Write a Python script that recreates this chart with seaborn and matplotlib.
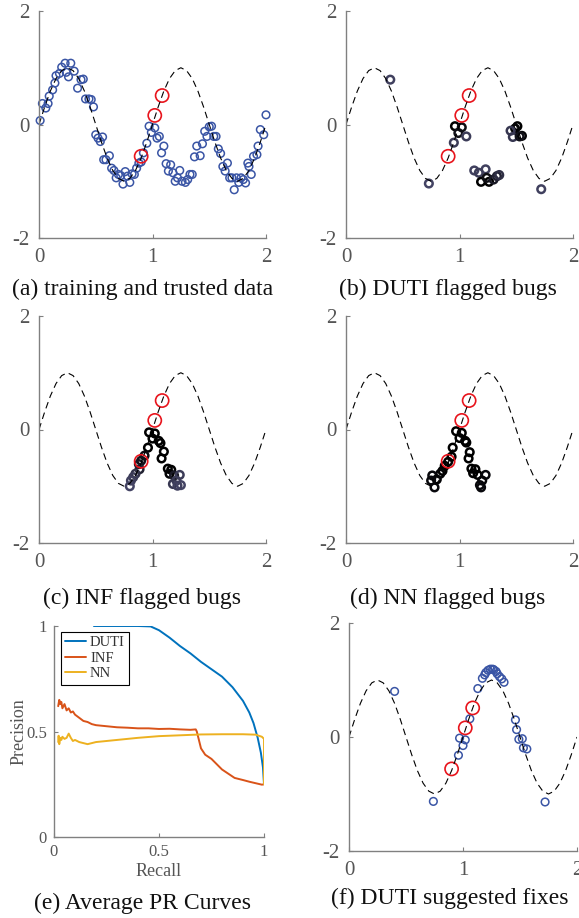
import matplotlib
matplotlib.use("Agg")
import numpy as np
import pandas as pd
import matplotlib.pyplot as plt
import seaborn as sns
from matplotlib.colors import LinearSegmentedColormap

# ---------------------------------------------------------------
# style
# ---------------------------------------------------------------
sns.set_style("white")
plt.rcParams['font.family'] = ['Liberation Serif', 'DejaVu Serif']

BLUE = '#3a55a5'
RED = '#e8141c'
GRAY = '#808080'
TXT = '#555555'

# ---------------------------------------------------------------
# data
# ---------------------------------------------------------------
# dashed reference curve (read every 0.05)
curve_x = [0.00, 0.05, 0.10, 0.15, 0.20, 0.25, 0.30, 0.35, 0.40, 0.45,
           0.50, 0.55, 0.60, 0.65, 0.70, 0.75, 0.80, 0.85, 0.90, 0.95,
           1.00, 1.05, 1.10, 1.15, 1.20, 1.25, 1.30, 1.35, 1.40, 1.45,
           1.50, 1.55, 1.60, 1.65, 1.70, 1.75, 1.80, 1.85, 1.90, 1.95, 2.00]
curve_y = [0.00, 0.31, 0.59, 0.81, 0.95, 1.00, 0.95, 0.81, 0.59, 0.31,
           0.00, -0.31, -0.59, -0.81, -0.95, -1.00, -0.95, -0.81, -0.59, -0.31,
           0.00, 0.31, 0.59, 0.81, 0.95, 1.00, 0.95, 0.81, 0.59, 0.31,
           0.00, -0.31, -0.59, -0.81, -0.95, -1.00, -0.95, -0.81, -0.59, -0.31, 0.00]

# trusted items (red)
trusted_x = [0.90, 1.02, 1.085]
trusted_y = [-0.56, 0.16, 0.51]

# (a) training data
train_x = [0.01, 0.03, 0.06, 0.08, 0.09, 0.12, 0.14, 0.15, 0.18, 0.20,
           0.23, 0.24, 0.26, 0.28, 0.31, 0.34, 0.37, 0.39, 0.41, 0.44,
           0.46, 0.48, 0.50, 0.52, 0.54, 0.56, 0.57, 0.59, 0.62, 0.64,
           0.66, 0.68, 0.70, 0.72, 0.74, 0.76, 0.78, 0.80, 0.82, 0.84,
           0.86, 0.88, 0.90, 0.92, 0.95, 0.97, 0.99, 1.02, 1.04, 1.06,
           1.08, 1.10, 1.12, 1.14, 1.16, 1.18, 1.20, 1.22, 1.24, 1.26,
           1.29, 1.31, 1.33, 1.35, 1.37, 1.39, 1.42, 1.44, 1.46, 1.48,
           1.50, 1.52, 1.54, 1.56, 1.58, 1.60, 1.62, 1.64, 1.66, 1.68,
           1.70, 1.72, 1.74, 1.76, 1.78, 1.80, 1.82, 1.84, 1.85, 1.87,
           1.89, 1.92, 1.93, 1.95, 1.98, 2.00]
train_y = [0.07, 0.37, 0.29, 0.37, 0.50, 0.61, 0.73, 0.86, 0.90, 1.01,
           1.08, 0.92, 0.84, 1.08, 0.94, 0.64, 0.79, 0.80, 0.45, 0.45,
           0.44, 0.31, -0.18, -0.24, -0.30, -0.22, -0.62, -0.62, -0.55, -0.77,
           -0.81, -0.94, -0.88, -0.90, -1.05, -0.83, -0.91, -1.02, -0.87, -0.88,
           -0.77, -0.68, -0.66, -0.50, -0.33, -0.03, -0.14, -0.06, -0.24, -0.21,
           -0.50, -0.38, -0.69, -0.82, -0.71, -0.85, -1.00, -0.94, -0.81, -1.00,
           -1.02, -0.97, -0.88, -0.88, -0.57, -0.38, -0.55, -0.34, -0.12, -0.21,
           -0.04, -0.03, -0.21, -0.21, -0.43, -0.51, -0.74, -0.82, -0.68, -0.94,
           -0.94, -1.15, -0.94, -1.02, -0.94, -0.97, -1.03, -0.68, -0.74, -0.88,
           -0.56, -0.53, -0.38, -0.09, -0.18, 0.17]

# (b) DUTI flagged items, shade = how strongly flagged (0 slate .. 1 black)
duti_x = [0.39, 0.73, 0.96, 0.99, 1.02, 0.95, 1.06, 1.13, 1.17, 1.23,
          1.19, 1.26, 1.24, 1.30, 1.33, 1.35, 1.51, 1.49, 1.45, 1.47,
          1.55, 1.53, 1.72]
duti_y = [0.79, -1.04, -0.03, -0.15, -0.05, -0.32, -0.21, -0.81, -0.85, -0.79,
          -1.01, -1.01, -0.94, -0.97, -0.91, -0.89, -0.03, -0.07, -0.11, -0.22,
          -0.20, -0.21, -1.14]
duti_shade = [0.25, 0.2, 1.0, 0.8, 0.85, 0.3, 0.3, 0.25, 0.3, 0.25,
              1.0, 1.0, 0.85, 0.7, 0.6, 0.45, 1.0, 0.95, 0.35, 0.35,
              0.95, 0.8, 0.25]

# (c) INF flagged items
inf_x = [0.97, 1.02, 1.00, 1.055, 1.07, 0.96, 1.10, 1.08, 0.93, 0.90,
         0.88, 0.886, 0.85, 0.83, 0.81, 0.80, 1.135, 1.165, 1.15, 1.19,
         1.24, 1.21, 1.18, 1.25, 1.22]
inf_y = [-0.05, -0.07, -0.16, -0.20, -0.24, -0.32, -0.39, -0.51, -0.46, -0.55,
         -0.61, -0.70, -0.78, -0.84, -0.90, -1.00, -0.69, -0.71, -0.78, -0.81,
         -0.80, -0.90, -0.96, -0.98, -0.99]
inf_shade = [1.0, 1.0, 1.0, 1.0, 1.0, 1.0, 1.0, 1.0, 0.85, 0.8,
             0.75, 0.6, 0.4, 0.3, 0.25, 0.2, 1.0, 1.0, 0.95, 0.7,
             0.3, 0.3, 0.35, 0.2, 0.25]

# (d) NN flagged items
nn_x = [0.97, 1.02, 1.00, 1.05, 1.06, 0.94, 1.09, 1.08, 0.93, 0.90,
        0.87, 0.85, 0.83, 0.76, 0.80, 0.75, 0.78, 1.105, 1.14, 1.12,
        1.16, 1.23, 1.20, 1.18, 1.19]
nn_y = [-0.03, -0.06, -0.15, -0.20, -0.23, -0.32, -0.40, -0.51, -0.48, -0.57,
        -0.64, -0.73, -0.78, -0.81, -0.88, -0.90, -1.02, -0.69, -0.70, -0.77,
        -0.80, -0.80, -0.90, -0.98, -1.02]
nn_shade = [1.0, 1.0, 1.0, 1.0, 1.0, 1.0, 1.0, 1.0, 1.0, 1.0,
            1.0, 1.0, 0.95, 0.9, 0.95, 0.9, 0.9, 1.0, 1.0, 1.0,
            1.0, 0.9, 0.95, 0.9, 0.9]

# (e) average PR curves
duti_rec = [0.19, 0.30, 0.40, 0.46, 0.50, 0.55, 0.60, 0.65, 0.70, 0.75,
            0.80, 0.85, 0.90, 0.93, 0.95, 0.97, 0.985, 0.995, 1.00]
duti_prec = [1.00, 1.00, 1.00, 0.998, 0.98, 0.945, 0.905, 0.87, 0.83, 0.795,
             0.76, 0.71, 0.645, 0.59, 0.54, 0.47, 0.40, 0.33, 0.25]
inf_rec = [0.02, 0.025, 0.03, 0.035, 0.04, 0.05, 0.06, 0.07, 0.08, 0.09,
           0.10, 0.12, 0.14, 0.16, 0.18, 0.20, 0.25, 0.30, 0.35, 0.40,
           0.45, 0.50, 0.55, 0.60, 0.65, 0.675, 0.68, 0.69, 0.70, 0.72,
           0.75, 0.78, 0.80, 0.83, 0.86, 0.90, 0.93, 0.96, 0.99, 1.00]
inf_prec = [0.62, 0.65, 0.63, 0.64, 0.61, 0.63, 0.60, 0.61, 0.59, 0.595,
            0.58, 0.565, 0.55, 0.545, 0.535, 0.53, 0.525, 0.52, 0.518, 0.515,
            0.515, 0.512, 0.513, 0.51, 0.508, 0.51, 0.50, 0.46, 0.42, 0.39,
            0.37, 0.34, 0.32, 0.30, 0.28, 0.27, 0.262, 0.255, 0.248, 0.25]
nn_rec = [0.02, 0.022, 0.025, 0.03, 0.035, 0.04, 0.05, 0.06, 0.07, 0.08,
          0.09, 0.10, 0.12, 0.14, 0.16, 0.20, 0.25, 0.30, 0.40, 0.50,
          0.60, 0.70, 0.80, 0.90, 0.96, 0.99, 1.00, 1.00]
nn_prec = [0.45, 0.48, 0.44, 0.47, 0.46, 0.475, 0.465, 0.47, 0.49, 0.47,
           0.455, 0.46, 0.45, 0.445, 0.44, 0.45, 0.455, 0.46, 0.47, 0.478,
           0.482, 0.486, 0.487, 0.487, 0.485, 0.475, 0.465, 0.25]

# f) DUTI suggested fixes
fix_x = [0.40, 0.74, 0.96, 0.97, 1.00, 1.02, 1.06, 1.13, 1.17, 1.19,
         1.20, 1.22, 1.24, 1.26, 1.27, 1.29, 1.30, 1.32, 1.34, 1.36,
         1.46, 1.47, 1.49, 1.52, 1.53, 1.56, 1.72]
fix_y = [0.80, -1.13, -0.32, -0.02, -0.15, -0.05, 0.32, 0.85, 1.03, 1.09,
         1.13, 1.17, 1.19, 1.19, 1.18, 1.15, 1.11, 1.06, 1.02, 0.96,
         0.30, 0.13, -0.04, -0.03, -0.19, -0.21, -1.14]

captions = ['(a) training and trusted data', '(b) DUTI flagged bugs',
            '(c) INF flagged bugs', '(d) NN flagged bugs',
            '(e) Average PR Curves', '(f) DUTI suggested fixes']

# ---------------------------------------------------------------
# helpers
# ---------------------------------------------------------------
W, H = 579, 918
fig = plt.figure(figsize=(W / 100, H / 100), dpi=100)


def px_axes(l, t, r, b):
    return fig.add_axes([l / W, 1 - b / H, (r - l) / W, (b - t) / H])


shade_cmap = LinearSegmentedColormap.from_list('shade', ['#55557d', '#000000'])


def open_circles(ax, x, y, color=None, shade=None, s=30, lw=1.1):
    df = pd.DataFrame({'x': x, 'y': y})
    if shade is None:
        sns.scatterplot(data=df, x='x', y='y', ax=ax, color=color, s=s, legend=False)
        coll = ax.collections[-1]
        coll.set_facecolor('none')
        coll.set_edgecolor(color)
    else:
        df['shade'] = shade
        sns.scatterplot(data=df, x='x', y='y', hue='shade', palette=shade_cmap,
                        hue_norm=(0, 1), ax=ax, s=s, legend=False)
        coll = ax.collections[-1]
        fc = coll.get_facecolors()
        coll.set_edgecolors(fc)
        coll.set_facecolor('none')
    coll.set_linewidth(lw)
    coll.set_clip_on(False)


def style_axis(ax, fs):
    for s in ['top', 'right']:
        ax.spines[s].set_visible(False)
    for s in ['left', 'bottom']:
        ax.spines[s].set_color(GRAY)
        ax.spines[s].set_linewidth(1.0)
    ax.tick_params(direction='in', length=3, width=0.8, color=GRAY,
                   labelcolor=TXT, labelsize=fs, pad=7,
                   bottom=True, left=True)
    ax.set_xlabel('')
    ax.set_ylabel('')


def sine_panel(ax):
    sns.lineplot(x=curve_x, y=curve_y, ax=ax, color='k', lw=0.8,
                 linestyle=(0, (6, 4)), estimator=None, sort=False)
    ax.set_xlim(0, 2)
    ax.set_ylim(-2, 2)


def finish_sine(ax):
    open_circles(ax, trusted_x, trusted_y, color=RED, s=90, lw=1.2)
    ax.set_xticks([0, 1, 2])
    ax.set_xticklabels(['0', '1', '2'])
    ax.set_yticks([-2, 0, 2])
    ax.set_yticklabels(['-2', '0', '2'])
    style_axis(ax, 15)


# ---------------------------------------------------------------
# panels
# ---------------------------------------------------------------
ax_a = px_axes(39, 11, 266, 238)
sine_panel(ax_a)
open_circles(ax_a, train_x, train_y, color=BLUE, s=30)
finish_sine(ax_a)

ax_b = px_axes(346, 11, 573, 238)
sine_panel(ax_b)
open_circles(ax_b, duti_x, duti_y, shade=duti_shade, s=30, lw=1.8)
finish_sine(ax_b)

ax_c = px_axes(39, 316, 266, 543)
sine_panel(ax_c)
open_circles(ax_c, inf_x, inf_y, shade=inf_shade, s=30, lw=1.8)
finish_sine(ax_c)

ax_d = px_axes(346, 316, 573, 543)
sine_panel(ax_d)
open_circles(ax_d, nn_x, nn_y, shade=nn_shade, s=30, lw=1.8)
finish_sine(ax_d)

ax_f = px_axes(349, 623, 577, 851)
sine_panel(ax_f)
open_circles(ax_f, fix_x, fix_y, color=BLUE, s=30)
finish_sine(ax_f)

# PR curves
ax_e = px_axes(54, 626, 264, 837)
pr = [('DUTI', duti_rec, duti_prec, '#0072BD'),
      ('INF', inf_rec, inf_prec, '#D95319'),
      ('NN', nn_rec, nn_prec, '#EDB120')]
for name, r, p, c in pr:
    sns.lineplot(x=r, y=p, ax=ax_e, color=c, lw=1.4, label=name,
                 estimator=None, sort=False)
ax_e.set_xlim(0, 1)
ax_e.set_ylim(0, 1)
ax_e.set_xticks([0, 0.5, 1])
ax_e.set_xticklabels(['0', '0.5', '1'])
ax_e.set_yticks([0, 0.5, 1])
ax_e.set_yticklabels(['0', '0.5', '1'])
style_axis(ax_e, 12)
ax_e.tick_params(pad=5)
ax_e.set_xlabel('Recall', fontsize=13, color=TXT, labelpad=2)
ax_e.set_ylabel('Precision', fontsize=13, color=TXT, labelpad=-1)
leg = ax_e.legend(loc='upper left', bbox_to_anchor=(0.033, 0.972),
                  borderaxespad=0, fontsize=10.5, handlelength=1.4,
                  handletextpad=0.3, labelspacing=0.15, borderpad=0.3,
                  fancybox=False, framealpha=1)
leg.get_frame().set_edgecolor('k')
leg.get_frame().set_linewidth(0.8)
for t in leg.get_texts():
    t.set_color('#333333')

# captions
cap_pos = [(143, 289), (448, 289), (142, 598), (448, 598), (142, 903), (450, 898)]
for (cx, cy), txt in zip(cap_pos, captions):
    fig.text(cx / W, 1 - cy / H, txt, ha='center', va='center', fontsize=17, color='#111111')

plt.savefig('out.png', dpi=100)
